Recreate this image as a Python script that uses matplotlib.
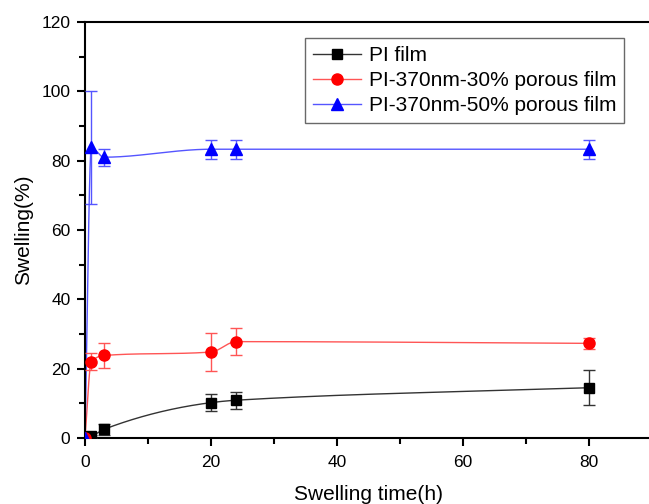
import numpy as np
import matplotlib
matplotlib.use("Agg")
import matplotlib.pyplot as plt
from matplotlib.ticker import MultipleLocator

plt.rcParams["font.family"] = ["Liberation Sans", "DejaVu Sans"]

# swelling time (h)
time_h = [0, 1, 3, 20, 24, 80]

pi_film = [0.0, 0.5, 2.5, 10.2, 10.9, 14.5]
pi_film_err = [0.0, 0.5, 1.5, 2.5, 2.5, 5.0]

pi_30 = [0.0, 22.0, 23.8, 24.8, 27.8, 27.3]
pi_30_err = [0.0, 2.5, 3.5, 5.5, 4.0, 1.5]

pi_50 = [0.0, 83.8, 81.0, 83.3, 83.3, 83.3]
pi_50_err = [0.0, 16.3, 2.5, 2.7, 2.7, 2.7]

labels = ["PI film", "PI-370nm-30% porous film", "PI-370nm-50% porous film"]


def pchip(x, y, xn):
    # shape-preserving cubic for the smooth connecting line
    x, y = np.asarray(x, float), np.asarray(y, float)
    h = np.diff(x)
    d = np.diff(y) / h
    m = np.zeros_like(y)
    for k in range(1, len(x) - 1):
        if d[k - 1] * d[k] > 0:
            w1 = 2 * h[k] + h[k - 1]
            w2 = h[k] + 2 * h[k - 1]
            m[k] = (w1 + w2) / (w1 / d[k - 1] + w2 / d[k])
    m[0], m[-1] = d[0], d[-1]
    idx = np.clip(np.searchsorted(x, xn) - 1, 0, len(h) - 1)
    t = (xn - x[idx]) / h[idx]
    h00 = 2 * t**3 - 3 * t**2 + 1
    h10 = t**3 - 2 * t**2 + t
    h01 = -2 * t**3 + 3 * t**2
    h11 = t**3 - t**2
    return (h00 * y[idx] + h10 * h[idx] * m[idx]
            + h01 * y[idx + 1] + h11 * h[idx] * m[idx + 1])


fig = plt.figure(figsize=(6.49, 5.04), dpi=100)
ax = fig.add_axes([85 / 649, 66 / 504, 567 / 649, 416 / 504])

series = [
    (pi_film, pi_film_err, "black", "#333333", "s", 7),
    (pi_30, pi_30_err, "red", "#ff5555", "o", 8),
    (pi_50, pi_50_err, "blue", "#5555ff", "^", 9),
]
xs = np.linspace(0, 80, 800)
for (ys, err, col, lcol, mk, ms), lab in zip(series, labels):
    ax.plot(xs, pchip(time_h, ys, xs), color=lcol, lw=1.0, zorder=2)
    ax.errorbar(time_h, ys, yerr=err, fmt="none", ecolor=lcol, elinewidth=1.0,
                capsize=4, capthick=1.0, zorder=3)
    ax.plot(time_h, ys, linestyle="none", marker=mk, color=col, ms=ms, zorder=4)
    ax.plot([], [], color=lcol, lw=1.0, marker=mk, mfc=col, mec=col, ms=ms, label=lab)

ax.set_xlim(0, 90)
ax.set_ylim(0, 120)
ax.xaxis.set_major_locator(MultipleLocator(20))
ax.xaxis.set_minor_locator(MultipleLocator(10))
ax.yaxis.set_major_locator(MultipleLocator(20))
ax.yaxis.set_minor_locator(MultipleLocator(10))
ax.tick_params(which="major", direction="out", length=6, width=1.5, labelsize=12.5)
ax.tick_params(which="minor", direction="out", length=4, width=1.5)
ax.tick_params(axis="x", which="major", pad=6)
ax.tick_params(axis="y", which="major", pad=4.5)
for sp in ax.spines.values():
    sp.set_linewidth(1.5)

ax.set_xlabel("Swelling time(h)", fontsize=15, labelpad=11)
ax.set_ylabel("Swelling(%)", fontsize=15, labelpad=6)

leg = ax.legend(loc="upper left", bbox_to_anchor=(220 / 567, 400 / 416), fontsize=15,
                frameon=True, fancybox=False, edgecolor="#444444", borderaxespad=0,
                handlelength=2.3, handletextpad=0.35, borderpad=0.4,
                labelspacing=0.28)
leg.get_frame().set_linewidth(1.0)

fig.savefig("out.png", dpi=100)
